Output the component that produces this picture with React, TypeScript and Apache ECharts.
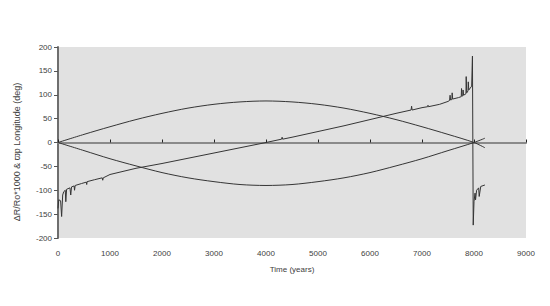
import React, { useEffect, useRef } from "react";
import * as echarts from "echarts";

// Tick values
const xMin = 0;
const xMax = 9000;
const xStep = 1000;
const yMin = -200;
const yMax = 200;
const yStep = 50;

// Axis titles
const xTitle = "Time (years)";
const yTitle = "\u0394R/Ro*1000 & \u03d6p Longitude (deg)";

// Perihelion longitude arcs (time in years, degrees)
const arcUpper: [number, number][] = [
  [0, 0], [500, 17], [1000, 33], [1500, 48], [2000, 61], [2500, 72], [3000, 80],
  [3500, 85], [4000, 87], [4500, 85], [5000, 80], [5500, 72], [6000, 61],
  [6500, 48], [7000, 33], [7500, 17], [8000, 0], [8210, -11],
];
const arcLower: [number, number][] = [
  [0, 0], [500, -17], [1000, -34], [1500, -49], [2000, -63], [2500, -74], [3000, -82],
  [3500, -88], [4000, -90], [4500, -88], [5000, -82], [5500, -74], [6000, -63],
  [6500, -49], [7000, -34], [7500, -17], [8000, 0], [8210, 9],
];

// ΔR/R0 * 1000 curve
const radiusCurve: [number, number][] = [
  [0, -138], [15, -120], [50, -122], [70, -155], [90, -110], [110, -103],
  [140, -100], [150, -124], [165, -98], [230, -95], [245, -110], [260, -93],
  [310, -91], [318, -100], [330, -90], [450, -86], [545, -83], [552, -88],
  [560, -82], [700, -78], [850, -74], [860, -79], [870, -74], [1000, -67],
  [1500, -54], [2000, -44], [2500, -33], [3000, -22], [3500, -11], [4000, 0],
  [4300, 7], [4310, 11], [4320, 7], [4500, 11], [5000, 23], [5500, 35],
  [6000, 48], [6500, 61], [6790, 68], [6800, 76], [6810, 68], [7000, 73],
  [7110, 75], [7115, 78], [7125, 75], [7340, 80], [7500, 86], [7530, 88],
  [7540, 99], [7550, 89], [7575, 90], [7580, 104], [7590, 91], [7700, 94],
  [7755, 96], [7760, 113], [7770, 97], [7785, 98], [7790, 110], [7800, 99],
  [7845, 102], [7850, 138], [7860, 104], [7885, 108], [7890, 127], [7900, 110],
  [7955, 118], [7970, 181], [7985, -173], [8000, -124], [8020, -106],
  [8030, -120], [8050, -100], [8090, -95], [8100, -113], [8130, -92],
  [8210, -89],
];

const FONT = "Liberation Sans, Arial, sans-serif";
const LINE_COLOR = "#353535";
const TEXT_COLOR = "#404040";

export default function App() {
  const ref = useRef<HTMLDivElement>(null);
  useEffect(() => {
    if (!ref.current) return;
    const chart = echarts.init(ref.current, undefined, { renderer: "svg" });
    const lineSeries = (name: string, data: [number, number][], smooth: number | boolean) => ({
      name,
      type: "line",
      data,
      xAxisIndex: 0,
      yAxisIndex: 0,
      showSymbol: false,
      symbol: "none",
      smooth,
      lineStyle: { color: LINE_COLOR, width: 1 },
      z: 3,
    });
    chart.setOption({
      animation: false,
      backgroundColor: "#ffffff",
      textStyle: { fontFamily: FONT },
      grid: {
        left: 58,
        right: 24,
        top: 47,
        bottom: 68,
        show: true,
        backgroundColor: "#e1e1e1",
        borderWidth: 0,
      },
      graphic: [
        {
          type: "text",
          x: 17,
          y: 152,
          rotation: Math.PI / 2,
          style: {
            text: yTitle,
            fill: TEXT_COLOR,
            font: `9px ${FONT}`,
            align: "center",
            verticalAlign: "middle",
          },
        },
      ],
      xAxis: [
        {
          type: "value",
          min: xMin,
          max: xMax,
          interval: xStep,
          position: "bottom",
          axisLine: { show: false, onZero: false },
          axisTick: { show: false },
          splitLine: { show: false },
          axisLabel: {
            color: TEXT_COLOR,
            fontSize: 8,
            margin: 11,
            fontFamily: FONT,
            formatter: (v: number) => String(v),
          },
          name: xTitle,
          nameLocation: "middle",
          nameGap: 27,
          nameTextStyle: { color: TEXT_COLOR, fontSize: 8, fontFamily: FONT },
        },
        {
          type: "value",
          min: xMin,
          max: xMax,
          interval: xStep,
          position: "bottom",
          axisLine: { show: true, onZero: true, lineStyle: { color: "#8a8a8a", width: 2 } },
          axisTick: { show: true, inside: true, length: 3, lineStyle: { color: "#222", width: 1 } },
          axisLabel: { show: false },
          splitLine: { show: false },
        },
      ],
      yAxis: {
        type: "value",
        min: yMin,
        max: yMax,
        interval: yStep,
        axisLine: { show: true, onZero: false, lineStyle: { color: "#6e6e6e", width: 2 } },
        axisTick: { show: true, length: 4, lineStyle: { color: "#555", width: 1 } },
        splitLine: { show: false },
        axisLabel: {
          color: TEXT_COLOR,
          fontSize: 8,
          margin: 6,
          fontFamily: FONT,
          formatter: (v: number) => String(v),
        },
      },
      series: [
        lineSeries("arcUpper", arcUpper, 0.3),
        lineSeries("arcLower", arcLower, 0.3),
        lineSeries("radius", radiusCurve, false),
      ],
    });
    return () => chart.dispose();
  }, []);
  return <div ref={ref} style={{ width: 550, height: 306, margin: -8 }} />;
}
